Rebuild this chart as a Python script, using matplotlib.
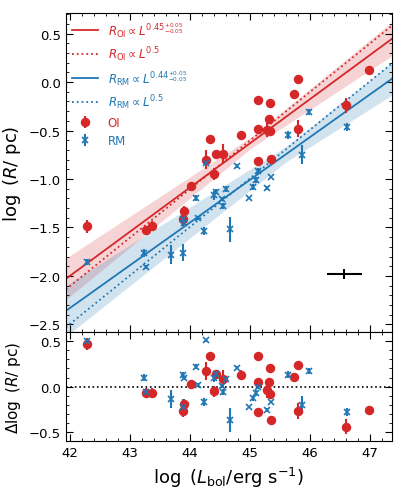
import numpy as np
import matplotlib.pyplot as plt
from matplotlib.ticker import MultipleLocator

# --- OI sample (red) ---
oi_logL = [42.28, 43.27, 43.36, 43.88, 43.90, 44.02, 44.27, 44.34, 44.41, 44.43,
           44.56, 44.85, 45.14, 45.14, 45.13, 45.28, 45.33, 45.32, 45.34, 45.35,
           45.74, 45.81, 45.80, 46.61, 46.99]
oi_logR = [-1.49, -1.53, -1.48, -1.41, -1.33, -1.07, -0.80, -0.59, -0.95, -0.74,
           -0.74, -0.55, -0.19, -0.48, -0.81, -0.49, -0.50, -0.38, -0.22, -0.79,
           -0.12, 0.03, -0.48, -0.24, 0.12]
oi_err = [0.07, 0.05, 0.05, 0.07, 0.05, 0.03, 0.10, 0.04, 0.06, 0.03,
          0.10, 0.05, 0.04, 0.04, 0.02, 0.08, 0.04, 0.04, 0.04, 0.03,
          0.04, 0.04, 0.09, 0.08, 0.0]
oi_res = [0.47, -0.07, -0.07, -0.27, -0.19, 0.03, 0.17, 0.34, -0.05, 0.14,
          0.08, 0.13, 0.34, 0.05, -0.28, -0.04, -0.08, 0.05, 0.21, -0.37,
          0.11, 0.24, -0.27, -0.44, -0.26]

# --- RM sample (blue) ---
rm_logL = [42.28, 43.23, 43.26, 43.69, 43.88, 43.89, 43.90, 44.11, 44.14, 44.23,
           44.27, 44.41, 44.44, 44.53, 44.56, 44.61, 44.67, 44.79, 44.99, 45.06,
           45.10, 45.14, 45.29, 45.35, 45.63, 45.87, 45.98, 46.62]
rm_logR = [-1.86, -1.76, -1.91, -1.78, -1.76, -1.41, -1.45, -1.20, -1.40, -1.54,
           -0.84, -1.17, -1.13, -1.21, -1.28, -1.10, -1.52, -0.87, -1.20, -1.08,
           -1.01, -0.92, -1.09, -0.98, -0.55, -0.75, -0.31, -0.46]
rm_err = [0.03, 0.04, 0.02, 0.10, 0.09, 0.03, 0.02, 0.03, 0.02, 0.04,
          0.02, 0.05, 0.03, 0.02, 0.03, 0.03, 0.13, 0.02, 0.0, 0.03,
          0.03, 0.03, 0.02, 0.0, 0.04, 0.10, 0.03, 0.04]
rm_res = [0.50, 0.10, -0.06, -0.14, -0.23, 0.13, 0.09, 0.22, 0.02, -0.17,
          0.51, 0.10, 0.14, 0.01, -0.06, 0.08, -0.37, 0.21, -0.22, -0.13,
          -0.07, 0.00, -0.26, -0.17, 0.13, -0.20, 0.17, -0.28]

# fits: (slope, slope err, pivot, value at pivot, value err)
oi_fit = [0.455, 0.05, 45.03, -0.62, 0.058]
rm_fit = [0.44, 0.05, 45.6, -0.746, 0.08]
# fixed slope 0.5 lines: value at logL = 42
oi_half = -2.105
rm_half = -2.495

red = '#d62728'
blue = '#1f77b4'
xlim = (41.93, 47.37)

fig, (ax, axr) = plt.subplots(2, 1, figsize=(3.99, 4.89), dpi=100, sharex=True,
                              gridspec_kw={'height_ratios': [2.93, 1], 'hspace': 0})
fig.subplots_adjust(left=0.165, right=0.982, top=0.971, bottom=0.096)

xx = np.linspace(xlim[0], xlim[1], 200)

def band(fit):
    s, ds, x0, y0, dy = fit
    lines = [y0 + a + b * (xx - x0) for a in (-dy, dy) for b in (s - ds, s + ds)]
    return y0 + s * (xx - x0), np.min(lines, axis=0), np.max(lines, axis=0)

for fit, c in [(oi_fit, red), (rm_fit, blue)]:
    mid, lo, hi = band(fit)
    ax.fill_between(xx, lo, hi, color=c, alpha=0.2, lw=0)

mid, lo, hi = band(oi_fit)
ax.plot(xx, mid, color=red, lw=1.3, label=r'$R_{\rm OI}\propto L^{0.45^{+0.05}_{-0.05}}$')
ax.plot(xx, oi_half + 0.5 * (xx - 42), color=red, lw=1.3, ls=':', label=r'$R_{\rm OI}\propto L^{0.5}$')
mid, lo, hi = band(rm_fit)
ax.plot(xx, mid, color=blue, lw=1.3, label=r'$R_{\rm RM}\propto L^{0.44^{+0.05}_{-0.05}}$')
ax.plot(xx, rm_half + 0.5 * (xx - 42), color=blue, lw=1.3, ls=':', label=r'$R_{\rm RM}\propto L^{0.5}$')

ax.errorbar(oi_logL, oi_logR, yerr=oi_err, fmt='o', color=red, ms=5.8, elinewidth=1.5,
            capsize=0, label='OI')
ax.errorbar(rm_logL, rm_logR, yerr=rm_err, fmt='x', color=blue, ms=4.5, mew=1.2,
            elinewidth=1.5, capsize=0, label='RM')

# typical uncertainty
ax.errorbar([46.58], [-1.98], xerr=[0.3], yerr=[0.05], fmt='none', color='k', lw=1.5, capsize=0)

leg = ax.legend(loc='upper left', frameon=False, fontsize=8.5, handlelength=2.2,
                labelspacing=0.45, borderaxespad=0.15)
for t, c in zip(leg.get_texts(), [red, red, blue, blue, red, blue]):
    t.set_color(c)

ax.set_xlim(*xlim)
ax.set_ylim(-2.58, 0.71)
ax.set_ylabel(r'$\log\ (R/\ {\rm pc})$', fontsize=13)
ax.yaxis.set_major_locator(MultipleLocator(0.5))
ax.yaxis.set_minor_locator(MultipleLocator(0.1))

axr.errorbar(oi_logL, oi_res, yerr=oi_err, fmt='o', color=red, ms=5.8, elinewidth=1.5, capsize=0)
axr.errorbar(rm_logL, rm_res, yerr=rm_err, fmt='x', color=blue, ms=4.5, mew=1.2,
             elinewidth=1.5, capsize=0)
axr.axhline(0, color='k', ls=':', lw=1.2)
axr.set_ylim(-0.6, 0.6)
axr.yaxis.set_major_locator(MultipleLocator(0.5))
axr.yaxis.set_minor_locator(MultipleLocator(0.1))
axr.xaxis.set_major_locator(MultipleLocator(1))
axr.xaxis.set_minor_locator(MultipleLocator(0.2))
axr.set_ylabel(r'$\Delta\log\ (R/\ {\rm pc})$', fontsize=11)
axr.set_xlabel(r'$\log\ (L_{\rm bol}/{\rm erg\ s^{-1}})$', fontsize=13)

for a in (ax, axr):
    a.tick_params(which='both', direction='in', top=True, right=True, labelsize=9.5)
    a.tick_params(which='major', length=5)
    a.tick_params(which='minor', length=2.5)

fig.savefig('out.png', dpi=100)
